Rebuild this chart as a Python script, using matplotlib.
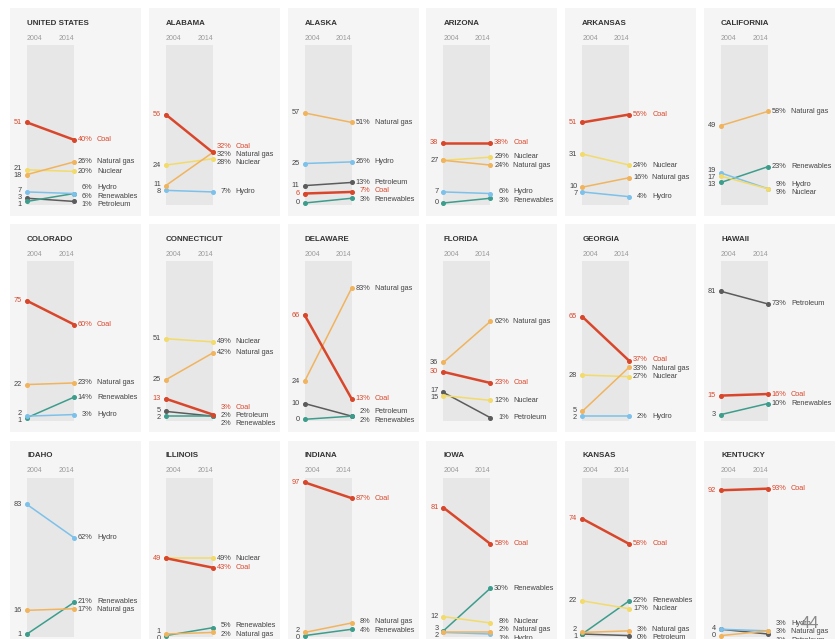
import numpy as np
import matplotlib.pyplot as plt

plt.rcParams['font.family'] = ['Liberation Sans', 'DejaVu Sans']

states = ["UNITED STATES", "ALABAMA", "ALASKA", "ARIZONA", "ARKANSAS", "CALIFORNIA",
          "COLORADO", "CONNECTICUT", "DELAWARE", "FLORIDA", "GEORGIA", "HAWAII",
          "IDAHO", "ILLINOIS", "INDIANA", "IOWA", "KANSAS", "KENTUCKY"]
sources = ["Coal", "Natural gas", "Nuclear", "Hydro", "Renewables", "Petroleum"]
colors = ["#d8472b", "#f1b45e", "#f2db6a", "#7dc1ea", "#3d9d8c", "#5c5c5c"]

N = None
# share of generation (%) per source, order as in `sources`
share_2004 = [
    [51, 18, 21, 7, 1, 3],
    [56, 11, 24, 8, N, N],
    [6, 57, N, 25, 0, 11],
    [38, 27, 27, 7, 0, N],
    [51, 10, 31, 7, N, N],
    [N, 49, 17, 19, 13, N],
    [75, 22, N, 2, 1, N],
    [13, 25, 51, N, 2, 5],
    [66, 24, N, N, 0, 10],
    [30, 36, 15, N, N, 17],
    [65, 5, 28, 2, N, N],
    [15, N, N, N, 3, 81],
    [N, 16, N, 83, 1, N],
    [49, 1, 49, N, 0, N],
    [97, 2, N, N, 0, N],
    [81, 2, 12, 2, 3, N],
    [74, 2, 22, N, 1, 1],
    [92, 0, N, 4, N, 4],
]
share_2014 = [
    [40, 26, 20, 6, 6, 1],
    [32, 32, 28, 7, N, N],
    [7, 51, N, 26, 3, 13],
    [38, 24, 29, 6, 3, N],
    [56, 16, 24, 4, N, N],
    [N, 58, 9, 9, 23, N],
    [60, 23, N, 3, 14, N],
    [3, 42, 49, N, 2, 2],
    [13, 83, N, N, 2, 2],
    [23, 62, 12, N, N, 1],
    [37, 33, 27, 2, N, N],
    [16, N, N, N, 10, 73],
    [N, 17, N, 62, 21, N],
    [43, 2, 49, N, 5, N],
    [87, 8, N, N, 4, N],
    [58, 2, 8, 1, 30, N],
    [58, 3, 17, N, 22, 0],
    [93, 3, N, 3, N, 1],
]

W, H = 838, 639
PXX = 47.0    # pixels per x unit (2004 -> 0, 2014 -> 1)
PXY = 1.58    # pixels per percentage point
FS = 5.3


def spread(vals, gap):
    # vals sorted high to low; push overlapping labels apart around their mean
    clusters = [[i] for i in range(len(vals))]

    def pos(c):
        center = np.mean([vals[i] for i in c])
        return [center + gap * ((len(c) - 1) / 2 - k) for k in range(len(c))]

    changed = True
    while changed:
        changed = False
        for j in range(len(clusters) - 1):
            if pos(clusters[j])[-1] - pos(clusters[j + 1])[0] < gap - 1e-9:
                clusters[j] = clusters[j] + clusters[j + 1]
                del clusters[j + 1]
                changed = True
                break
    out = []
    for c in clusters:
        out += pos(c)
    return out


fig = plt.figure(figsize=(W / 100, H / 100), dpi=100)

for n, state in enumerate(states):
    r, c = divmod(n, 6)
    left = 10 + c * 138.8
    top = 8 + r * 216.3
    ax = fig.add_axes([left / W, 1 - (top + 208) / H, 131 / W, 208 / H])
    ax.set_xlim(-17 / PXX, 114 / PXX)
    ax.set_ylim(-13 / PXY, 100 + 37 / PXY)
    ax.set_facecolor('#f5f5f5')
    for s in ax.spines.values():
        s.set_visible(False)
    ax.set_xticks([])
    ax.set_yticks([])

    ax.fill_between([0, 1], -1, 100, color='#e7e7e7', lw=0, zorder=0)

    ax.text(0, 113.9, state, fontsize=5.7, weight='bold', color='#333333', va='center')
    ax.text(0, 104.4, '2004', fontsize=5, color='#9a9a9a', va='center', ha='left')
    ax.text(1, 104.4, '2014', fontsize=5, color='#9a9a9a', va='center', ha='right')

    v04 = share_2004[n]
    v14 = share_2014[n]
    present = [k for k in range(len(sources)) if v04[k] is not None]

    for k in present[::-1]:
        coal = sources[k] == "Coal"
        ax.plot([0, 1], [v04[k], v14[k]], color=colors[k], lw=1.8 if coal else 1.1,
                marker='o', ms=2.6, zorder=4 if coal else 3, solid_capstyle='round')

    # right-hand labels
    order = sorted(present, key=lambda k: (-v14[k], -v04[k]))
    ys = spread([v14[k] for k in order], 5.3)
    for k, y in zip(order, ys):
        tc = colors[0] if sources[k] == "Coal" else '#444444'
        ax.text(1 + 18.5 / PXX, y, f"{v14[k]}%", fontsize=FS, color=tc, ha='right', va='center')
        ax.text(1 + 23 / PXX, y, sources[k], fontsize=FS, color=tc, ha='left', va='center')

    # left-hand labels, one per distinct value
    vals = sorted(set(v04[k] for k in present), reverse=True)
    ys = spread(vals, 4.5)
    for v, y in zip(vals, ys):
        is_coal = v04[0] is not None and v04[0] == v
        tc = colors[0] if is_coal else '#444444'
        ax.text(-5 / PXX, y, str(v), fontsize=FS, color=tc, ha='right', va='center')

fig.text(801 / W, 1 - 623 / H, '44', fontsize=12, color='#888888', va='center')

fig.savefig('out.png', dpi=100, facecolor='white')
